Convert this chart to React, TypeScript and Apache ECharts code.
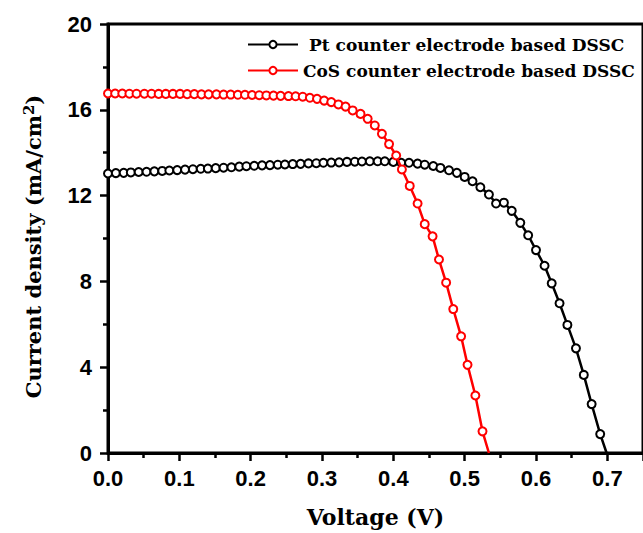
import React, { useEffect, useRef } from "react";
import * as echarts from "echarts";

const ptName = "Pt counter electrode based DSSC";
const cosName = "CoS counter electrode based DSSC";

const ptVoltage = [
  0.0, 0.011, 0.022, 0.032, 0.043, 0.054, 0.065, 0.076, 0.086, 0.097,
  0.108, 0.119, 0.13, 0.14, 0.151, 0.162, 0.173, 0.184, 0.194, 0.205,
  0.216, 0.227, 0.238, 0.248, 0.259, 0.27, 0.281, 0.292, 0.302, 0.313,
  0.324, 0.335, 0.346, 0.356, 0.367, 0.378, 0.388, 0.4, 0.411, 0.422,
  0.434, 0.444, 0.456, 0.466, 0.478, 0.489, 0.5, 0.511, 0.522, 0.534,
  0.544, 0.555, 0.566, 0.578, 0.589, 0.6, 0.612, 0.622, 0.633, 0.644,
  0.656, 0.667, 0.678, 0.69, 0.699,
];
const ptCurrent = [
  13.03, 13.05, 13.06, 13.08, 13.1, 13.11, 13.13, 13.15, 13.17, 13.19,
  13.21, 13.23, 13.25, 13.26, 13.28, 13.3, 13.32, 13.35, 13.37, 13.39,
  13.41, 13.42, 13.44, 13.45, 13.47, 13.48, 13.5, 13.51, 13.53, 13.54,
  13.55, 13.57, 13.58, 13.59, 13.6, 13.6, 13.6, 13.57, 13.53, 13.53,
  13.49, 13.44, 13.38, 13.29, 13.18, 13.06, 12.87, 12.67, 12.39, 12.05,
  11.63, 11.67, 11.29, 10.73, 10.15, 9.46, 8.73, 7.91, 6.98, 5.97,
  4.88, 3.64, 2.28, 0.88, 0,
];

const cosVoltage = [
  0.0, 0.01, 0.02, 0.03, 0.04, 0.051, 0.061, 0.071, 0.081, 0.091,
  0.101, 0.111, 0.121, 0.131, 0.141, 0.152, 0.162, 0.172, 0.182, 0.192,
  0.202, 0.212, 0.222, 0.232, 0.242, 0.253, 0.263, 0.273, 0.283, 0.293,
  0.303, 0.313, 0.323, 0.333, 0.343, 0.354, 0.364, 0.374, 0.384, 0.394,
  0.404, 0.412, 0.423, 0.434, 0.444, 0.455, 0.464, 0.474, 0.484, 0.495,
  0.504, 0.515, 0.525, 0.534,
];
const cosCurrent = [
  16.76, 16.76, 16.76, 16.75, 16.75, 16.75, 16.75, 16.74, 16.74, 16.74,
  16.74, 16.73, 16.73, 16.72, 16.72, 16.72, 16.71, 16.71, 16.7, 16.7,
  16.69, 16.68, 16.67, 16.66, 16.65, 16.64, 16.63, 16.61, 16.56, 16.51,
  16.43, 16.36, 16.25, 16.15, 15.97, 15.81, 15.58, 15.27, 14.88, 14.4,
  13.87, 13.22, 12.45, 11.63, 10.67, 10.1, 9.02, 7.94, 6.71, 5.44,
  4.11, 2.68, 1.01, 0,
];

const xTicks = { min: 0, max: 0.75, interval: 0.1 };
const yTicks = { min: 0, max: 20, interval: 4 };

function buildData(v: number[], j: number[]) {
  return v.map((x, i) => {
    const item: any = { value: [x, j[i]] };
    if (i === v.length - 1) item.symbol = "none";
    return item;
  });
}

export default function App() {
  const ref = useRef<HTMLDivElement>(null);
  useEffect(() => {
    if (!ref.current) return;
    const chart = echarts.init(ref.current, null, { renderer: "svg" });
    const labelFont = {
      fontFamily: "Liberation Sans, Arial, sans-serif",
      fontWeight: "bold" as const,
      fontSize: 22,
      color: "#000",
    };
    const serif = "DejaVu Serif, serif";
    chart.setOption({
      animation: false,
      backgroundColor: "#fff",
      grid: {
        left: 108,
        right: -4,
        top: 24,
        bottom: 78,
        show: true,
        borderColor: "#000",
        borderWidth: 3,
        backgroundColor: "transparent",
      },
      legend: {
        orient: "vertical",
        left: 242,
        top: 31,
        itemWidth: 50,
        itemHeight: 9,
        itemGap: 9,
        textStyle: {
          fontFamily: serif,
          fontWeight: "bold",
          fontSize: 17,
          color: "#000",
        },
        data: [
          { name: ptName, textStyle: { padding: [0, 0, 0, 6] } },
          { name: cosName },
        ],
      },
      xAxis: {
        type: "value",
        min: xTicks.min,
        max: xTicks.max,
        interval: xTicks.interval,
        name: "Voltage (V)",
        nameLocation: "middle",
        nameGap: 53,
        nameTextStyle: {
          fontFamily: serif,
          fontWeight: "bold",
          fontSize: 22,
          color: "#000",
        },
        axisLine: { show: true, lineStyle: { color: "#000", width: 3 } },
        axisTick: { show: true, inside: false, length: 8, lineStyle: { color: "#000", width: 2.5 } },
        minorTick: { show: true, splitNumber: 2, length: 5, lineStyle: { color: "#000", width: 2.5 } },
        splitLine: { show: false },
        axisLabel: {
          ...labelFont,
          margin: 14,
          showMaxLabel: false,
          formatter: (v: number) => v.toFixed(1),
        },
      },
      yAxis: {
        type: "value",
        min: yTicks.min,
        max: yTicks.max,
        interval: yTicks.interval,
        name: "Current density (mA/cm{sup|2})",
        nameLocation: "middle",
        nameRotate: 90,
        nameGap: 62,
        nameTextStyle: {
          fontFamily: serif,
          fontWeight: "bold",
          fontSize: 21,
          color: "#000",
          padding: [0, 16, 0, 0],
          rich: {
            sup: {
              fontFamily: serif,
              fontWeight: "bold",
              fontSize: 15,
              verticalAlign: "top",
              padding: [0, 0, 10, 0],
              color: "#000",
            },
          },
        },
        axisLine: { show: true, lineStyle: { color: "#000", width: 3 } },
        axisTick: { show: true, inside: false, length: 8, lineStyle: { color: "#000", width: 2.5 } },
        minorTick: { show: true, splitNumber: 2, length: 5, lineStyle: { color: "#000", width: 2.5 } },
        splitLine: { show: false },
        axisLabel: { ...labelFont, margin: 16 },
      },
      series: [
        {
          name: ptName,
          type: "line",
          data: buildData(ptVoltage, ptCurrent),
          symbol: "emptyCircle",
          symbolSize: 8,
          showAllSymbol: true,
          color: "#000",
          lineStyle: { color: "#000", width: 2.5 },
          itemStyle: { color: "#000", borderWidth: 2.2 },
          z: 2,
        },
        {
          name: cosName,
          type: "line",
          data: buildData(cosVoltage, cosCurrent),
          symbol: "emptyCircle",
          symbolSize: 8,
          showAllSymbol: true,
          color: "#ff0000",
          lineStyle: { color: "#ff0000", width: 2.5 },
          itemStyle: { color: "#ff0000", borderWidth: 2.2 },
          z: 3,
        },
      ],
    });
    return () => chart.dispose();
  }, []);
  return (
    <div
      ref={ref}
      style={{ width: 643, height: 533, position: "absolute", left: 0, top: 0 }}
    />
  );
}
